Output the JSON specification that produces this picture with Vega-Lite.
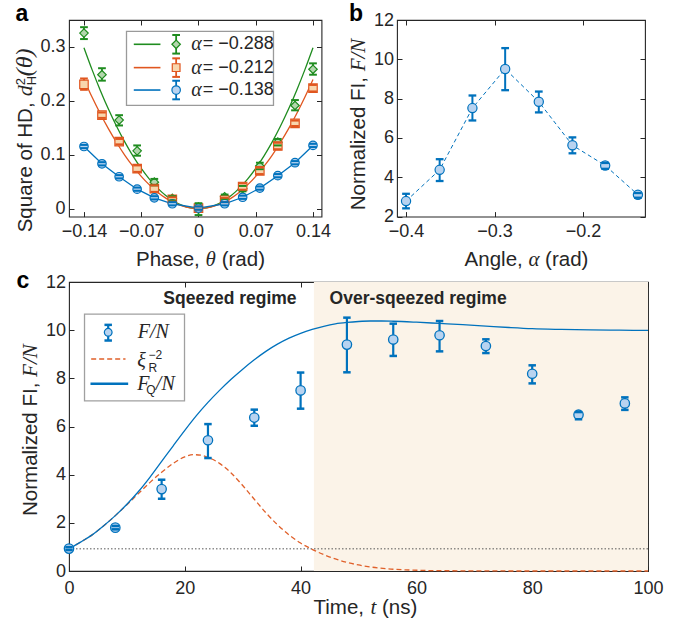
{
"$schema": "https://vega.github.io/schema/vega-lite/v6.json",
"background": "white",
"padding": {"left": 12, "top": 2, "right": 0, "bottom": 0},
"autosize": {"type": "pad"},
"bounds": "full",
"spacing": -3,
"datasets": {
"aPts": [
{"s":"g","theta":-0.140,"v":0.325,"lo":0.314,"hi":0.336},
{"s":"g","theta":-0.118,"v":0.248,"lo":0.237,"hi":0.260},
{"s":"g","theta":-0.097,"v":0.164,"lo":0.154,"hi":0.173},
{"s":"g","theta":-0.075,"v":0.107,"lo":0.098,"hi":0.117},
{"s":"g","theta":-0.054,"v":0.049,"lo":0.043,"hi":0.055},
{"s":"g","theta":-0.032,"v":0.019,"lo":0.015,"hi":0.023},
{"s":"g","theta":0,"v":0.003,"lo":-0.012,"hi":0.010},
{"s":"g","theta":0.032,"v":0.022,"lo":0.018,"hi":0.026},
{"s":"g","theta":0.054,"v":0.037,"lo":0.032,"hi":0.042},
{"s":"g","theta":0.075,"v":0.079,"lo":0.073,"hi":0.085},
{"s":"g","theta":0.097,"v":0.123,"lo":0.117,"hi":0.129},
{"s":"g","theta":0.118,"v":0.191,"lo":0.182,"hi":0.201},
{"s":"g","theta":0.140,"v":0.258,"lo":0.248,"hi":0.269},
{"s":"o","theta":-0.140,"v":0.230,"lo":0.220,"hi":0.241},
{"s":"o","theta":-0.118,"v":0.173,"lo":0.168,"hi":0.178},
{"s":"o","theta":-0.097,"v":0.124,"lo":0.119,"hi":0.129},
{"s":"o","theta":-0.075,"v":0.074,"lo":0.068,"hi":0.080},
{"s":"o","theta":-0.054,"v":0.037,"lo":0.031,"hi":0.043},
{"s":"o","theta":-0.032,"v":0.017,"lo":0.013,"hi":0.021},
{"s":"o","theta":0,"v":0.001,"lo":-0.002,"hi":0.004},
{"s":"o","theta":0.032,"v":0.016,"lo":0.012,"hi":0.020},
{"s":"o","theta":0.054,"v":0.041,"lo":0.035,"hi":0.047},
{"s":"o","theta":0.075,"v":0.070,"lo":0.064,"hi":0.076},
{"s":"o","theta":0.097,"v":0.116,"lo":0.110,"hi":0.122},
{"s":"o","theta":0.118,"v":0.158,"lo":0.153,"hi":0.163},
{"s":"o","theta":0.140,"v":0.223,"lo":0.217,"hi":0.229},
{"s":"b","theta":-0.140,"v":0.115,"lo":0.112,"hi":0.118},
{"s":"b","theta":-0.118,"v":0.083,"lo":0.080,"hi":0.086},
{"s":"b","theta":-0.097,"v":0.059,"lo":0.056,"hi":0.062},
{"s":"b","theta":-0.075,"v":0.036,"lo":0.033,"hi":0.039},
{"s":"b","theta":-0.054,"v":0.020,"lo":0.017,"hi":0.023},
{"s":"b","theta":-0.032,"v":0.009,"lo":0.006,"hi":0.012},
{"s":"b","theta":0,"v":0.001,"lo":-0.002,"hi":0.004},
{"s":"b","theta":0.032,"v":0.009,"lo":0.006,"hi":0.012},
{"s":"b","theta":0.054,"v":0.021,"lo":0.018,"hi":0.024},
{"s":"b","theta":0.075,"v":0.038,"lo":0.035,"hi":0.041},
{"s":"b","theta":0.097,"v":0.061,"lo":0.058,"hi":0.064},
{"s":"b","theta":0.118,"v":0.085,"lo":0.082,"hi":0.088},
{"s":"b","theta":0.140,"v":0.117,"lo":0.114,"hi":0.120}
],
"aFit": [
{"s":"g","theta":-0.14,"v":0.2979},{"s":"g","theta":-0.13,"v":0.2569},{"s":"g","theta":-0.12,"v":0.2189},{"s":"g","theta":-0.11,"v":0.1839},{"s":"g","theta":-0.10,"v":0.152},{"s":"g","theta":-0.09,"v":0.1231},{"s":"g","theta":-0.08,"v":0.0973},{"s":"g","theta":-0.07,"v":0.0745},{"s":"g","theta":-0.06,"v":0.0547},{"s":"g","theta":-0.05,"v":0.038},{"s":"g","theta":-0.04,"v":0.0243},{"s":"g","theta":-0.03,"v":0.0137},{"s":"g","theta":-0.02,"v":0.0061},{"s":"g","theta":-0.01,"v":0.0015},{"s":"g","theta":0,"v":0},
{"s":"g","theta":0.01,"v":0.0015},{"s":"g","theta":0.02,"v":0.0061},{"s":"g","theta":0.03,"v":0.0137},{"s":"g","theta":0.04,"v":0.0243},{"s":"g","theta":0.05,"v":0.038},{"s":"g","theta":0.06,"v":0.0547},{"s":"g","theta":0.07,"v":0.0745},{"s":"g","theta":0.08,"v":0.0973},{"s":"g","theta":0.09,"v":0.1231},{"s":"g","theta":0.10,"v":0.152},{"s":"g","theta":0.11,"v":0.1839},{"s":"g","theta":0.12,"v":0.2189},{"s":"g","theta":0.13,"v":0.2569},{"s":"g","theta":0.14,"v":0.2979},
{"s":"o","theta":-0.14,"v":0.2391},{"s":"o","theta":-0.13,"v":0.2062},{"s":"o","theta":-0.12,"v":0.1757},{"s":"o","theta":-0.11,"v":0.1476},{"s":"o","theta":-0.10,"v":0.122},{"s":"o","theta":-0.09,"v":0.0988},{"s":"o","theta":-0.08,"v":0.0781},{"s":"o","theta":-0.07,"v":0.0598},{"s":"o","theta":-0.06,"v":0.0439},{"s":"o","theta":-0.05,"v":0.0305},{"s":"o","theta":-0.04,"v":0.0195},{"s":"o","theta":-0.03,"v":0.011},{"s":"o","theta":-0.02,"v":0.0049},{"s":"o","theta":-0.01,"v":0.0012},{"s":"o","theta":0,"v":0},
{"s":"o","theta":0.01,"v":0.0012},{"s":"o","theta":0.02,"v":0.0049},{"s":"o","theta":0.03,"v":0.011},{"s":"o","theta":0.04,"v":0.0195},{"s":"o","theta":0.05,"v":0.0305},{"s":"o","theta":0.06,"v":0.0439},{"s":"o","theta":0.07,"v":0.0598},{"s":"o","theta":0.08,"v":0.0781},{"s":"o","theta":0.09,"v":0.0988},{"s":"o","theta":0.10,"v":0.122},{"s":"o","theta":0.11,"v":0.1476},{"s":"o","theta":0.12,"v":0.1757},{"s":"o","theta":0.13,"v":0.2062},{"s":"o","theta":0.14,"v":0.2391}
],
"bPts": [
{"alpha":-0.400,"f":2.79,"lo":2.42,"hi":3.16},
{"alpha":-0.362,"f":4.38,"lo":3.81,"hi":4.92},
{"alpha":-0.325,"f":7.52,"lo":6.89,"hi":8.16},
{"alpha":-0.288,"f":9.51,"lo":8.43,"hi":10.57},
{"alpha":-0.250,"f":7.84,"lo":7.30,"hi":8.36},
{"alpha":-0.212,"f":5.63,"lo":5.22,"hi":6.03},
{"alpha":-0.175,"f":4.60,"lo":4.43,"hi":4.73},
{"alpha":-0.138,"f":3.11,"lo":2.96,"hi":3.20}
],
"cPts": [
{"t":0,"f":0.93,"lo":0.87,"hi":0.99},
{"t":8,"f":1.80,"lo":1.73,"hi":1.87},
{"t":16,"f":3.40,"lo":3.00,"hi":3.79},
{"t":24,"f":5.43,"lo":4.69,"hi":6.10},
{"t":32,"f":6.37,"lo":6.03,"hi":6.70},
{"t":40,"f":7.50,"lo":6.74,"hi":8.24},
{"t":48,"f":9.40,"lo":8.25,"hi":10.52},
{"t":56,"f":9.61,"lo":8.93,"hi":10.27},
{"t":64,"f":9.79,"lo":9.12,"hi":10.38},
{"t":72,"f":9.34,"lo":9.05,"hi":9.62},
{"t":80,"f":8.19,"lo":7.79,"hi":8.54},
{"t":88,"f":6.49,"lo":6.30,"hi":6.60},
{"t":96,"f":6.96,"lo":6.69,"hi":7.21}
],
"cCurve": [
{"s":"xi","t":0,"y":0.92},{"s":"xi","t":2,"y":1.2},{"s":"xi","t":4,"y":1.5},{"s":"xi","t":6,"y":1.88},{"s":"xi","t":8,"y":2.3},{"s":"xi","t":10,"y":2.75},{"s":"xi","t":12,"y":3.22},{"s":"xi","t":14,"y":3.68},{"s":"xi","t":16,"y":4.1},{"s":"xi","t":18,"y":4.47},{"s":"xi","t":20,"y":4.74},{"s":"xi","t":21.5,"y":4.83},{"s":"xi","t":23,"y":4.8},{"s":"xi","t":24,"y":4.72},{"s":"xi","t":26,"y":4.47},{"s":"xi","t":28,"y":4.07},{"s":"xi","t":30,"y":3.55},{"s":"xi","t":32,"y":2.98},{"s":"xi","t":34,"y":2.42},{"s":"xi","t":36,"y":1.92},{"s":"xi","t":38,"y":1.5},{"s":"xi","t":40,"y":1.16},{"s":"xi","t":42,"y":0.9},{"s":"xi","t":44,"y":0.68},{"s":"xi","t":46,"y":0.5},{"s":"xi","t":48,"y":0.36},{"s":"xi","t":50,"y":0.25},{"s":"xi","t":52,"y":0.17},{"s":"xi","t":55,"y":0.09},{"s":"xi","t":58,"y":0.05},{"s":"xi","t":62,"y":0.02},{"s":"xi","t":70,"y":0.005},{"s":"xi","t":80,"y":0},{"s":"xi","t":100,"y":0},
{"s":"fq","t":0,"y":0.92},{"s":"fq","t":2,"y":1.2},{"s":"fq","t":4,"y":1.5},{"s":"fq","t":6,"y":1.88},{"s":"fq","t":8,"y":2.3},{"s":"fq","t":10,"y":2.77},{"s":"fq","t":12,"y":3.3},{"s":"fq","t":14,"y":3.9},{"s":"fq","t":16,"y":4.55},{"s":"fq","t":18,"y":5.2},{"s":"fq","t":20,"y":5.84},{"s":"fq","t":22,"y":6.45},{"s":"fq","t":24,"y":7.0},{"s":"fq","t":26,"y":7.5},{"s":"fq","t":28,"y":7.96},{"s":"fq","t":30,"y":8.38},{"s":"fq","t":32,"y":8.77},{"s":"fq","t":34,"y":9.12},{"s":"fq","t":36,"y":9.42},{"s":"fq","t":38,"y":9.67},{"s":"fq","t":40,"y":9.87},{"s":"fq","t":42,"y":10.03},{"s":"fq","t":44,"y":10.16},{"s":"fq","t":46,"y":10.26},{"s":"fq","t":48,"y":10.32},{"s":"fq","t":50,"y":10.36},{"s":"fq","t":52,"y":10.38},{"s":"fq","t":54,"y":10.38},{"s":"fq","t":56,"y":10.37},{"s":"fq","t":60,"y":10.33},{"s":"fq","t":64,"y":10.28},{"s":"fq","t":68,"y":10.23},{"s":"fq","t":72,"y":10.17},{"s":"fq","t":76,"y":10.11},{"s":"fq","t":80,"y":10.06},{"s":"fq","t":85,"y":10.03},{"s":"fq","t":90,"y":10.01},{"s":"fq","t":95,"y":10.0},{"s":"fq","t":100,"y":9.99}
]
},
"vconcat": [
{"hconcat": [
{
"width": 252.5, "height": 196.6,
"data": {"values": [{}]},
"resolve": {"axis": {"x": "independent", "y": "independent"}},
"layer": [
{"data": {"name": "aFit"}, "mark": {"type": "line", "strokeWidth": 1.3, "interpolate": "monotone"},
 "encoding": {
  "x": {"field": "theta", "type": "quantitative", "scale": {"domain": [-0.1583, 0.1504], "nice": false, "zero": false}, "axis": {"orient": "bottom", "values": [-0.14, -0.07, 0, 0.07, 0.14], "format": ".2~f", "title": null, "labelPadding": 11}},
  "y": {"field": "v", "type": "quantitative", "scale": {"domain": [-0.0148, 0.3493], "nice": false, "zero": false}, "axis": {"orient": "left", "values": [0, 0.1, 0.2, 0.3], "format": ".1~f", "title": null, "labelPadding": 9}},
  "stroke": {"field": "s", "type": "nominal", "scale": {"domain": ["g", "o", "b"], "range": ["#1f8c1f", "#e0561f", "#0072bd"]}, "legend": null}}},
{"data": {"name": "aPts"}, "transform": [{"filter": "datum.s == 'b'"}], "mark": {"type": "line", "strokeWidth": 1.3, "stroke": "#0072bd"},
 "encoding": {"x": {"field": "theta", "type": "quantitative", "axis": null}, "y": {"field": "v", "type": "quantitative", "axis": null}}},
{"data": {"name": "aPts"}, "mark": {"type": "rule", "strokeWidth": 1.8},
 "encoding": {"x": {"field": "theta", "type": "quantitative", "axis": null}, "y": {"field": "lo", "type": "quantitative", "axis": null}, "y2": {"field": "hi"},
  "stroke": {"field": "s", "type": "nominal", "scale": {"domain": ["g", "o", "b"], "range": ["#1f8c1f", "#e0561f", "#0072bd"]}, "legend": null}}},
{"data": {"name": "aPts"}, "mark": {"type": "point", "filled": true, "size": 72, "strokeWidth": 1.2, "opacity": 1, "fillOpacity": 1, "strokeOpacity": 1},
 "encoding": {"x": {"field": "theta", "type": "quantitative", "axis": null}, "y": {"field": "v", "type": "quantitative", "axis": null},
  "shape": {"field": "s", "type": "nominal", "scale": {"domain": ["g", "o", "b"], "range": ["diamond", "square", "circle"]}, "legend": null},
  "fill": {"field": "s", "type": "nominal", "scale": {"domain": ["g", "o", "b"], "range": ["#b3d6ad", "#f8d6ad", "#b8d3f0"]}, "legend": null},
  "stroke": {"field": "s", "type": "nominal", "scale": {"domain": ["g", "o", "b"], "range": ["#1f8c1f", "#e0561f", "#0072bd"]}, "legend": null}}},
{"data": {"name": "aPts"}, "mark": {"type": "point", "shape": "M-1,0L1,0", "size": 60, "strokeWidth": 2, "filled": false, "opacity": 1},
 "encoding": {"x": {"field": "theta", "type": "quantitative", "axis": null}, "y": {"field": "lo", "type": "quantitative", "axis": null},
  "stroke": {"field": "s", "type": "nominal", "scale": {"domain": ["g", "o", "b"], "range": ["#1f8c1f", "#e0561f", "#0072bd"]}, "legend": null}}},
{"data": {"name": "aPts"}, "mark": {"type": "point", "shape": "M-1,0L1,0", "size": 60, "strokeWidth": 2, "filled": false, "opacity": 1},
 "encoding": {"x": {"field": "theta", "type": "quantitative", "axis": null}, "y": {"field": "hi", "type": "quantitative", "axis": null},
  "stroke": {"field": "s", "type": "nominal", "scale": {"domain": ["g", "o", "b"], "range": ["#1f8c1f", "#e0561f", "#0072bd"]}, "legend": null}}},
{"mark": {"type": "rect", "fill": "white", "stroke": "#9a9a9a", "strokeWidth": 1.3},
 "encoding": {"x": {"datum": -0.088, "type": "quantitative", "axis": null}, "x2": {"datum": 0.0917}, "y": {"datum": 0.3283, "type": "quantitative", "axis": null}, "y2": {"datum": 0.1913}}},
{"mark": {"type": "rule", "stroke": "#1f8c1f", "strokeWidth": 1.6}, "encoding": {"x": {"datum": -0.0791, "type": "quantitative", "axis": null}, "x2": {"datum": -0.0465}, "y": {"datum": 0.3043, "type": "quantitative", "axis": null}}},
{"mark": {"type": "rule", "stroke": "#e0561f", "strokeWidth": 1.6}, "encoding": {"x": {"datum": -0.0791, "type": "quantitative", "axis": null}, "x2": {"datum": -0.0465}, "y": {"datum": 0.2611, "type": "quantitative", "axis": null}}},
{"mark": {"type": "rule", "stroke": "#0072bd", "strokeWidth": 1.6}, "encoding": {"x": {"datum": -0.0791, "type": "quantitative", "axis": null}, "x2": {"datum": -0.0465}, "y": {"datum": 0.2196, "type": "quantitative", "axis": null}}},
{"mark": {"type": "rule", "stroke": "#1f8c1f", "strokeWidth": 1.8}, "encoding": {"x": {"datum": -0.0273, "type": "quantitative", "axis": null}, "y": {"datum": 0.3215, "type": "quantitative", "axis": null}, "y2": {"datum": 0.2871}}},
{"mark": {"type": "rule", "stroke": "#e0561f", "strokeWidth": 1.8}, "encoding": {"x": {"datum": -0.0273, "type": "quantitative", "axis": null}, "y": {"datum": 0.2783, "type": "quantitative", "axis": null}, "y2": {"datum": 0.2439}}},
{"mark": {"type": "rule", "stroke": "#0072bd", "strokeWidth": 1.8}, "encoding": {"x": {"datum": -0.0273, "type": "quantitative", "axis": null}, "y": {"datum": 0.2368, "type": "quantitative", "axis": null}, "y2": {"datum": 0.2024}}},
{"mark": {"type": "point", "shape": "M-1,0L1,0", "size": 60, "strokeWidth": 2, "filled": false, "opacity": 1, "stroke": "#1f8c1f"}, "encoding": {"x": {"datum": -0.0273, "type": "quantitative", "axis": null}, "y": {"datum": 0.3215, "type": "quantitative", "axis": null}}},
{"mark": {"type": "point", "shape": "M-1,0L1,0", "size": 60, "strokeWidth": 2, "filled": false, "opacity": 1, "stroke": "#1f8c1f"}, "encoding": {"x": {"datum": -0.0273, "type": "quantitative", "axis": null}, "y": {"datum": 0.2871, "type": "quantitative", "axis": null}}},
{"mark": {"type": "point", "shape": "M-1,0L1,0", "size": 60, "strokeWidth": 2, "filled": false, "opacity": 1, "stroke": "#e0561f"}, "encoding": {"x": {"datum": -0.0273, "type": "quantitative", "axis": null}, "y": {"datum": 0.2783, "type": "quantitative", "axis": null}}},
{"mark": {"type": "point", "shape": "M-1,0L1,0", "size": 60, "strokeWidth": 2, "filled": false, "opacity": 1, "stroke": "#e0561f"}, "encoding": {"x": {"datum": -0.0273, "type": "quantitative", "axis": null}, "y": {"datum": 0.2439, "type": "quantitative", "axis": null}}},
{"mark": {"type": "point", "shape": "M-1,0L1,0", "size": 60, "strokeWidth": 2, "filled": false, "opacity": 1, "stroke": "#0072bd"}, "encoding": {"x": {"datum": -0.0273, "type": "quantitative", "axis": null}, "y": {"datum": 0.2368, "type": "quantitative", "axis": null}}},
{"mark": {"type": "point", "shape": "M-1,0L1,0", "size": 60, "strokeWidth": 2, "filled": false, "opacity": 1, "stroke": "#0072bd"}, "encoding": {"x": {"datum": -0.0273, "type": "quantitative", "axis": null}, "y": {"datum": 0.2024, "type": "quantitative", "axis": null}}},
{"mark": {"type": "point", "shape": "diamond", "size": 72, "filled": true, "opacity": 1, "fill": "#b3d6ad", "stroke": "#1f8c1f", "strokeWidth": 1.2}, "encoding": {"x": {"datum": -0.0273, "type": "quantitative", "axis": null}, "y": {"datum": 0.3043, "type": "quantitative", "axis": null}}},
{"mark": {"type": "point", "shape": "square", "size": 60, "filled": true, "opacity": 1, "fill": "#f8d6ad", "stroke": "#e0561f", "strokeWidth": 1.2}, "encoding": {"x": {"datum": -0.0273, "type": "quantitative", "axis": null}, "y": {"datum": 0.2611, "type": "quantitative", "axis": null}}},
{"mark": {"type": "point", "shape": "circle", "size": 72, "filled": true, "opacity": 1, "fill": "#b8d3f0", "stroke": "#0072bd", "strokeWidth": 1.2}, "encoding": {"x": {"datum": -0.0273, "type": "quantitative", "axis": null}, "y": {"datum": 0.2196, "type": "quantitative", "axis": null}}},
{"mark": {"type": "text", "text": "α", "font": "Liberation Serif", "fontStyle": "italic", "fontSize": 20, "align": "left", "baseline": "middle", "color": "#262626"}, "encoding": {"x": {"datum": -0.0089, "type": "quantitative", "axis": null}, "y": {"datum": 0.3043, "type": "quantitative", "axis": null}}},
{"mark": {"type": "text", "text": "α", "font": "Liberation Serif", "fontStyle": "italic", "fontSize": 20, "align": "left", "baseline": "middle", "color": "#262626"}, "encoding": {"x": {"datum": -0.0089, "type": "quantitative", "axis": null}, "y": {"datum": 0.2611, "type": "quantitative", "axis": null}}},
{"mark": {"type": "text", "text": "α", "font": "Liberation Serif", "fontStyle": "italic", "fontSize": 20, "align": "left", "baseline": "middle", "color": "#262626"}, "encoding": {"x": {"datum": -0.0089, "type": "quantitative", "axis": null}, "y": {"datum": 0.2196, "type": "quantitative", "axis": null}}},
{"mark": {"type": "text", "text": "= −0.288", "font": "Liberation Sans", "fontSize": 18, "align": "left", "baseline": "middle", "color": "#262626"}, "encoding": {"x": {"datum": 0.0053, "type": "quantitative", "axis": null}, "y": {"datum": 0.3043, "type": "quantitative", "axis": null}}},
{"mark": {"type": "text", "text": "= −0.212", "font": "Liberation Sans", "fontSize": 18, "align": "left", "baseline": "middle", "color": "#262626"}, "encoding": {"x": {"datum": 0.0053, "type": "quantitative", "axis": null}, "y": {"datum": 0.2611, "type": "quantitative", "axis": null}}},
{"mark": {"type": "text", "text": "= −0.138", "font": "Liberation Sans", "fontSize": 18, "align": "left", "baseline": "middle", "color": "#262626"}, "encoding": {"x": {"datum": 0.0053, "type": "quantitative", "axis": null}, "y": {"datum": 0.2196, "type": "quantitative", "axis": null}}},
{"mark": {"type": "text", "text": "Square of HD,", "font": "Liberation Sans", "fontSize": 20.5, "angle": 270, "align": "left", "baseline": "alphabetic", "color": "#262626"}, "encoding": {"x": {"datum": -0.2033, "type": "quantitative", "axis": null}, "y": {"datum": -0.0439, "type": "quantitative", "axis": null}}},
{"mark": {"type": "text", "text": "d", "font": "Liberation Serif", "fontStyle": "italic", "fontSize": 22, "angle": 270, "align": "left", "baseline": "alphabetic", "color": "#262626"}, "encoding": {"x": {"datum": -0.2033, "type": "quantitative", "axis": null}, "y": {"datum": 0.208, "type": "quantitative", "axis": null}}},
{"mark": {"type": "text", "text": "H", "font": "Liberation Sans", "fontSize": 13, "angle": 270, "align": "left", "baseline": "alphabetic", "color": "#262626"}, "encoding": {"x": {"datum": -0.1981, "type": "quantitative", "axis": null}, "y": {"datum": 0.2283, "type": "quantitative", "axis": null}}},
{"mark": {"type": "text", "text": "2", "font": "Liberation Sans", "fontSize": 13, "angle": 270, "align": "left", "baseline": "alphabetic", "color": "#262626"}, "encoding": {"x": {"datum": -0.2127, "type": "quantitative", "axis": null}, "y": {"datum": 0.2283, "type": "quantitative", "axis": null}}},
{"mark": {"type": "text", "text": "(θ)", "font": "Liberation Serif", "fontStyle": "italic", "fontSize": 24, "angle": 270, "align": "left", "baseline": "alphabetic", "color": "#262626"}, "encoding": {"x": {"datum": -0.2033, "type": "quantitative", "axis": null}, "y": {"datum": 0.245, "type": "quantitative", "axis": null}}},
{"mark": {"type": "text", "text": "Phase,", "font": "Liberation Sans", "fontSize": 20.5, "align": "left", "baseline": "alphabetic", "color": "#262626"}, "encoding": {"x": {"datum": -0.0764, "type": "quantitative", "axis": null}, "y": {"datum": -0.1069, "type": "quantitative", "axis": null}}},
{"mark": {"type": "text", "text": "θ", "font": "Liberation Serif", "fontStyle": "italic", "fontSize": 21, "align": "left", "baseline": "alphabetic", "color": "#262626"}, "encoding": {"x": {"datum": 0.0086, "type": "quantitative", "axis": null}, "y": {"datum": -0.1069, "type": "quantitative", "axis": null}}},
{"mark": {"type": "text", "text": "(rad)", "font": "Liberation Sans", "fontSize": 20.5, "align": "left", "baseline": "alphabetic", "color": "#262626"}, "encoding": {"x": {"datum": 0.0284, "type": "quantitative", "axis": null}, "y": {"datum": -0.1069, "type": "quantitative", "axis": null}}},
{"mark": {"type": "text", "text": "a", "font": "Liberation Sans", "fontWeight": "bold", "fontSize": 23, "align": "left", "baseline": "alphabetic", "color": "#000000"}, "encoding": {"x": {"datum": -0.2237, "type": "quantitative", "axis": null}, "y": {"datum": 0.3469, "type": "quantitative", "axis": null}}},
{"mark": {"type": "point", "opacity": 0},
 "encoding": {"x": {"datum": 0, "type": "quantitative", "axis": {"orient": "top", "values": [-0.14, -0.07, 0, 0.07, 0.14], "labels": false, "title": null}},
  "y": {"datum": 0.1, "type": "quantitative", "axis": {"orient": "right", "values": [0, 0.1, 0.2, 0.3], "labels": false, "title": null}}}}
]
},
{
"width": 248, "height": 196.6,
"data": {"values": [{}]},
"resolve": {"axis": {"x": "independent", "y": "independent"}},
"layer": [
{"data": {"name": "bPts"}, "mark": {"type": "line", "stroke": "#0072bd", "strokeWidth": 1, "strokeDash": [4, 3]},
 "encoding": {
  "x": {"field": "alpha", "type": "quantitative", "scale": {"domain": [-0.4102, -0.13], "nice": false, "zero": false}, "axis": {"orient": "bottom", "values": [-0.4, -0.3, -0.2], "format": ".1f", "title": null, "labelPadding": 11}},
  "y": {"field": "f", "type": "quantitative", "scale": {"domain": [2, 12], "nice": false, "zero": false}, "axis": {"orient": "left", "values": [2, 4, 6, 8, 10, 12], "format": "d", "title": null, "labelPadding": 8.5}}}},
{"data": {"name": "bPts"}, "mark": {"type": "rule", "stroke": "#0072bd", "strokeWidth": 2},
 "encoding": {"x": {"field": "alpha", "type": "quantitative", "axis": null}, "y": {"field": "lo", "type": "quantitative", "axis": null}, "y2": {"field": "hi"}}},
{"data": {"name": "bPts"}, "mark": {"type": "point", "shape": "circle", "filled": true, "size": 85, "fill": "#b8d3f0", "stroke": "#0072bd", "strokeWidth": 1.2, "opacity": 1},
 "encoding": {"x": {"field": "alpha", "type": "quantitative", "axis": null}, "y": {"field": "f", "type": "quantitative", "axis": null}}},
{"data": {"name": "bPts"}, "mark": {"type": "point", "shape": "M-1,0L1,0", "size": 60, "strokeWidth": 2.3, "filled": false, "opacity": 1, "stroke": "#0072bd"},
 "encoding": {"x": {"field": "alpha", "type": "quantitative", "axis": null}, "y": {"field": "lo", "type": "quantitative", "axis": null}}},
{"data": {"name": "bPts"}, "mark": {"type": "point", "shape": "M-1,0L1,0", "size": 60, "strokeWidth": 2.3, "filled": false, "opacity": 1, "stroke": "#0072bd"},
 "encoding": {"x": {"field": "alpha", "type": "quantitative", "axis": null}, "y": {"field": "hi", "type": "quantitative", "axis": null}}},
{"mark": {"type": "text", "text": "Normalized FI,", "font": "Liberation Sans", "fontSize": 20.5, "angle": 270, "align": "right", "baseline": "alphabetic", "color": "#262626"}, "encoding": {"x": {"datum": -0.4464, "type": "quantitative", "axis": null}, "y": {"datum": 9.1, "type": "quantitative", "axis": null}}},
{"mark": {"type": "text", "text": "F/N", "font": "Liberation Serif", "fontStyle": "italic", "fontSize": 21, "angle": 270, "align": "left", "baseline": "alphabetic", "color": "#262626"}, "encoding": {"x": {"datum": -0.4464, "type": "quantitative", "axis": null}, "y": {"datum": 9.39, "type": "quantitative", "axis": null}}},
{"mark": {"type": "text", "text": "Angle,", "font": "Liberation Sans", "fontSize": 20.5, "align": "left", "baseline": "alphabetic", "color": "#262626"}, "encoding": {"x": {"datum": -0.3338, "type": "quantitative", "axis": null}, "y": {"datum": -0.528, "type": "quantitative", "axis": null}}},
{"mark": {"type": "text", "text": "α", "font": "Liberation Serif", "fontStyle": "italic", "fontSize": 21, "align": "left", "baseline": "alphabetic", "color": "#262626"}, "encoding": {"x": {"datum": -0.2617, "type": "quantitative", "axis": null}, "y": {"datum": -0.528, "type": "quantitative", "axis": null}}},
{"mark": {"type": "text", "text": "(rad)", "font": "Liberation Sans", "fontSize": 20.5, "align": "left", "baseline": "alphabetic", "color": "#262626"}, "encoding": {"x": {"datum": -0.2429, "type": "quantitative", "axis": null}, "y": {"datum": -0.528, "type": "quantitative", "axis": null}}},
{"mark": {"type": "text", "text": "b", "font": "Liberation Sans", "fontWeight": "bold", "fontSize": 23, "align": "left", "baseline": "alphabetic", "color": "#000000"}, "encoding": {"x": {"datum": -0.4644, "type": "quantitative", "axis": null}, "y": {"datum": 11.95, "type": "quantitative", "axis": null}}},
{"mark": {"type": "point", "opacity": 0},
 "encoding": {"x": {"datum": -0.3, "type": "quantitative", "axis": {"orient": "top", "values": [-0.4, -0.3, -0.2], "labels": false, "title": null}},
  "y": {"datum": 5, "type": "quantitative", "axis": {"orient": "right", "values": [2, 4, 6, 8, 10, 12], "labels": false, "title": null}}}}
]
}
], "spacing": 75, "bounds": "flush"},
{
"width": 579, "height": 289,
"data": {"values": [{}]},
"resolve": {"axis": {"x": "independent", "y": "independent"}},
"layer": [
{"mark": {"type": "rect", "fill": "#fbf3e8"},
 "encoding": {
  "x": {"datum": 42.3, "type": "quantitative", "scale": {"domain": [0, 100], "nice": false, "zero": false}, "axis": {"orient": "bottom", "values": [0, 20, 40, 60, 80, 100], "format": "d", "title": null, "labelPadding": 13}},
  "x2": {"datum": 100},
  "y": {"datum": 12, "type": "quantitative", "scale": {"domain": [0, 12], "nice": false, "zero": false}, "axis": {"orient": "left", "values": [0, 2, 4, 6, 8, 10, 12], "format": "d", "title": null, "labelPadding": 8.5}},
  "y2": {"datum": 0}}},
{"mark": {"type": "rule", "stroke": "#555555", "strokeWidth": 1, "strokeDash": [1.5, 2]}, "encoding": {"y": {"datum": 0.92, "type": "quantitative", "axis": null}}},
{"data": {"name": "cCurve"}, "transform": [{"filter": "datum.s == 'xi'"}], "mark": {"type": "line", "stroke": "#e0602a", "strokeWidth": 1.3, "strokeDash": [5, 3], "interpolate": "monotone"},
 "encoding": {"x": {"field": "t", "type": "quantitative", "axis": null}, "y": {"field": "y", "type": "quantitative", "axis": null}}},
{"data": {"name": "cCurve"}, "transform": [{"filter": "datum.s == 'fq'"}], "mark": {"type": "line", "stroke": "#0072bd", "strokeWidth": 1.3, "interpolate": "monotone"},
 "encoding": {"x": {"field": "t", "type": "quantitative", "axis": null}, "y": {"field": "y", "type": "quantitative", "axis": null}}},
{"data": {"name": "cPts"}, "mark": {"type": "rule", "stroke": "#0072bd", "strokeWidth": 2.2},
 "encoding": {"x": {"field": "t", "type": "quantitative", "axis": null}, "y": {"field": "lo", "type": "quantitative", "axis": null}, "y2": {"field": "hi"}}},
{"data": {"name": "cPts"}, "mark": {"type": "point", "shape": "circle", "filled": true, "size": 88, "fill": "#b8d3f0", "stroke": "#0072bd", "strokeWidth": 1.3, "opacity": 1},
 "encoding": {"x": {"field": "t", "type": "quantitative", "axis": null}, "y": {"field": "f", "type": "quantitative", "axis": null}}},
{"data": {"name": "cPts"}, "mark": {"type": "point", "shape": "M-1,0L1,0", "size": 56, "strokeWidth": 2.5, "filled": false, "opacity": 1, "stroke": "#0072bd"},
 "encoding": {"x": {"field": "t", "type": "quantitative", "axis": null}, "y": {"field": "lo", "type": "quantitative", "axis": null}}},
{"data": {"name": "cPts"}, "mark": {"type": "point", "shape": "M-1,0L1,0", "size": 56, "strokeWidth": 2.5, "filled": false, "opacity": 1, "stroke": "#0072bd"},
 "encoding": {"x": {"field": "t", "type": "quantitative", "axis": null}, "y": {"field": "hi", "type": "quantitative", "axis": null}}},
{"mark": {"type": "rect", "fill": "white", "stroke": "#a0a0a0", "strokeWidth": 1.3},
 "encoding": {"x": {"datum": 2.68, "type": "quantitative", "axis": null}, "x2": {"datum": 19.95}, "y": {"datum": 10.67, "type": "quantitative", "axis": null}, "y2": {"datum": 7.06}}},
{"mark": {"type": "rule", "stroke": "#0072bd", "strokeWidth": 2.2}, "encoding": {"x": {"datum": 6.77, "type": "quantitative", "axis": null}, "y": {"datum": 10.22, "type": "quantitative", "axis": null}, "y2": {"datum": 9.57}}},
{"mark": {"type": "point", "shape": "circle", "filled": true, "size": 60, "fill": "#b8d3f0", "stroke": "#0072bd", "strokeWidth": 1.2, "opacity": 1}, "encoding": {"x": {"datum": 6.77, "type": "quantitative", "axis": null}, "y": {"datum": 9.91, "type": "quantitative", "axis": null}}},
{"mark": {"type": "point", "shape": "M-1,0L1,0", "size": 56, "strokeWidth": 2.5, "filled": false, "opacity": 1, "stroke": "#0072bd"}, "encoding": {"x": {"datum": 6.77, "type": "quantitative", "axis": null}, "y": {"datum": 10.22, "type": "quantitative", "axis": null}}},
{"mark": {"type": "point", "shape": "M-1,0L1,0", "size": 56, "strokeWidth": 2.5, "filled": false, "opacity": 1, "stroke": "#0072bd"}, "encoding": {"x": {"datum": 6.77, "type": "quantitative", "axis": null}, "y": {"datum": 9.57, "type": "quantitative", "axis": null}}},
{"mark": {"type": "rule", "stroke": "#e0602a", "strokeWidth": 1.5, "strokeDash": [5, 3]}, "encoding": {"x": {"datum": 3.83, "type": "quantitative", "axis": null}, "x2": {"datum": 9.76}, "y": {"datum": 8.8, "type": "quantitative", "axis": null}}},
{"mark": {"type": "rule", "stroke": "#0072bd", "strokeWidth": 2.5}, "encoding": {"x": {"datum": 3.71, "type": "quantitative", "axis": null}, "x2": {"datum": 10.22}, "y": {"datum": 7.77, "type": "quantitative", "axis": null}}},
{"mark": {"type": "text", "text": "F/N", "font": "Liberation Serif", "fontStyle": "italic", "fontSize": 20, "align": "left", "baseline": "middle", "color": "#262626"}, "encoding": {"x": {"datum": 11.88, "type": "quantitative", "axis": null}, "y": {"datum": 9.91, "type": "quantitative", "axis": null}}},
{"mark": {"type": "text", "text": "ξ", "font": "Liberation Serif", "fontStyle": "italic", "fontSize": 20, "align": "left", "baseline": "middle", "color": "#262626"}, "encoding": {"x": {"datum": 11.78, "type": "quantitative", "axis": null}, "y": {"datum": 8.73, "type": "quantitative", "axis": null}}},
{"mark": {"type": "text", "text": "−2", "font": "Liberation Sans", "fontSize": 12, "align": "left", "baseline": "middle", "color": "#262626"}, "encoding": {"x": {"datum": 13.75, "type": "quantitative", "axis": null}, "y": {"datum": 8.97, "type": "quantitative", "axis": null}}},
{"mark": {"type": "text", "text": "R", "font": "Liberation Sans", "fontSize": 12, "align": "left", "baseline": "middle", "color": "#262626"}, "encoding": {"x": {"datum": 13.75, "type": "quantitative", "axis": null}, "y": {"datum": 8.43, "type": "quantitative", "axis": null}}},
{"mark": {"type": "text", "text": "F", "font": "Liberation Serif", "fontStyle": "italic", "fontSize": 20, "align": "left", "baseline": "middle", "color": "#262626"}, "encoding": {"x": {"datum": 11.78, "type": "quantitative", "axis": null}, "y": {"datum": 7.77, "type": "quantitative", "axis": null}}},
{"mark": {"type": "text", "text": "Q", "font": "Liberation Sans", "fontSize": 12, "align": "left", "baseline": "middle", "color": "#262626"}, "encoding": {"x": {"datum": 13.35, "type": "quantitative", "axis": null}, "y": {"datum": 7.5, "type": "quantitative", "axis": null}}},
{"mark": {"type": "text", "text": "/N", "font": "Liberation Serif", "fontStyle": "italic", "fontSize": 20, "align": "left", "baseline": "middle", "color": "#262626"}, "encoding": {"x": {"datum": 15.0, "type": "quantitative", "axis": null}, "y": {"datum": 7.77, "type": "quantitative", "axis": null}}},
{"mark": {"type": "text", "text": "Sqeezed regime", "font": "Liberation Sans", "fontWeight": "bold", "fontSize": 17.5, "align": "center", "baseline": "alphabetic", "color": "#262626"}, "encoding": {"x": {"datum": 27.8, "type": "quantitative", "axis": null}, "y": {"datum": 11.09, "type": "quantitative", "axis": null}}},
{"mark": {"type": "text", "text": "Over-sqeezed regime", "font": "Liberation Sans", "fontWeight": "bold", "fontSize": 17.5, "align": "center", "baseline": "alphabetic", "color": "#262626"}, "encoding": {"x": {"datum": 60.3, "type": "quantitative", "axis": null}, "y": {"datum": 11.09, "type": "quantitative", "axis": null}}},
{"mark": {"type": "text", "text": "Normalized FI,", "font": "Liberation Sans", "fontSize": 20.5, "angle": 270, "align": "right", "baseline": "alphabetic", "color": "#262626"}, "encoding": {"x": {"datum": -5.49, "type": "quantitative", "axis": null}, "y": {"datum": 7.82, "type": "quantitative", "axis": null}}},
{"mark": {"type": "text", "text": "F/N", "font": "Liberation Serif", "fontStyle": "italic", "fontSize": 21, "angle": 270, "align": "left", "baseline": "alphabetic", "color": "#262626"}, "encoding": {"x": {"datum": -5.49, "type": "quantitative", "axis": null}, "y": {"datum": 8.06, "type": "quantitative", "axis": null}}},
{"mark": {"type": "text", "text": "Time,", "font": "Liberation Sans", "fontSize": 20.5, "align": "left", "baseline": "alphabetic", "color": "#262626"}, "encoding": {"x": {"datum": 42.23, "type": "quantitative", "axis": null}, "y": {"datum": -1.786, "type": "quantitative", "axis": null}}},
{"mark": {"type": "text", "text": "t", "font": "Liberation Serif", "fontStyle": "italic", "fontSize": 21, "align": "left", "baseline": "alphabetic", "color": "#262626"}, "encoding": {"x": {"datum": 52.07, "type": "quantitative", "axis": null}, "y": {"datum": -1.786, "type": "quantitative", "axis": null}}},
{"mark": {"type": "text", "text": "(ns)", "font": "Liberation Sans", "fontSize": 20.5, "align": "left", "baseline": "alphabetic", "color": "#262626"}, "encoding": {"x": {"datum": 54.06, "type": "quantitative", "axis": null}, "y": {"datum": -1.786, "type": "quantitative", "axis": null}}},
{"mark": {"type": "text", "text": "c", "font": "Liberation Sans", "fontWeight": "bold", "fontSize": 23, "align": "left", "baseline": "alphabetic", "color": "#000000"}, "encoding": {"x": {"datum": -9.07, "type": "quantitative", "axis": null}, "y": {"datum": 11.75, "type": "quantitative", "axis": null}}},
{"mark": {"type": "point", "opacity": 0},
 "encoding": {"x": {"datum": 50, "type": "quantitative", "axis": {"orient": "top", "values": [0, 20, 40, 60, 80, 100], "labels": false, "title": null}},
  "y": {"datum": 5, "type": "quantitative", "axis": {"orient": "right", "values": [0, 2, 4, 6, 8, 10, 12], "labels": false, "title": null}}}}
]
}
],
"config": {
 "font": "Liberation Sans",
 "view": {"stroke": "#262626", "strokeWidth": 1.1},
 "axis": {"domain": false, "grid": false, "ticks": true, "tickSize": -5, "tickColor": "#262626", "tickWidth": 1, "labelColor": "#262626", "labelFontSize": 18, "labelFont": "Liberation Sans", "titleFont": "Liberation Sans", "titleFontSize": 20.5, "titleFontWeight": "normal", "titleColor": "#262626", "labelFlush": false, "labelOverlap": false, "labelBound": false}
}
}
